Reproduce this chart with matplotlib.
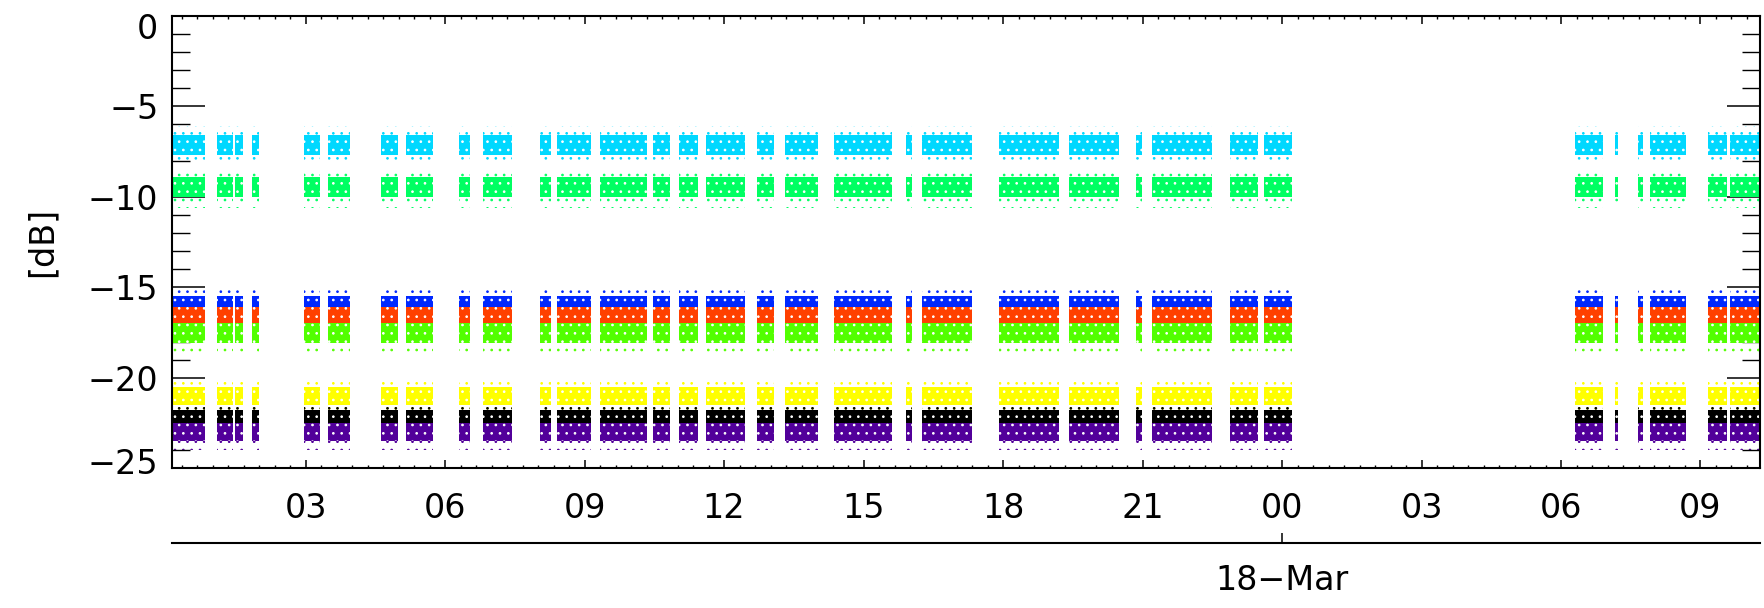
import matplotlib
matplotlib.use("Agg")
import matplotlib.pyplot as plt
from matplotlib.ticker import MultipleLocator, FixedLocator, FixedFormatter
from matplotlib.transforms import ScaledTranslation

# ---------------- data ----------------
# measurement bursts: start / end, hours since 17-Mar 00:00
burst_start = [0.13, 1.09, 1.48, 1.85, 2.96, 3.48, 4.62, 5.15, 6.29, 6.81,
               8.04, 8.40, 9.33, 10.47, 11.03, 11.60, 12.71, 13.30, 14.37, 15.92,
               16.26, 17.92, 19.42, 20.86, 21.20, 22.88, 23.61,
               30.30, 31.17, 31.66, 31.91, 33.17, 33.63]
burst_end = [0.84, 1.44, 1.65, 2.00, 3.31, 3.95, 4.98, 5.73, 6.53, 7.43,
             8.28, 9.13, 10.35, 10.83, 11.44, 12.44, 13.08, 14.01, 15.60, 16.05,
             17.34, 19.21, 20.49, 20.99, 22.50, 23.49, 24.22,
             30.91, 31.23, 31.77, 32.69, 33.56, 34.28]

# signal of each channel [dB]: dense core and outer scatter
series_colors = ["#00d8ff", "#00ff62", "#0028ff", "#ff4000",
                 "#52ff00", "#ffff00", "#000000", "#52009a"]
core_low = [-7.7, -10.0, -16.1, -17.0, -18.1, -21.5, -22.5, -23.5]
core_high = [-6.6, -8.9, -15.5, -16.1, -17.0, -20.5, -21.8, -22.5]
spread_low = [-8.2, -10.6, -16.3, -17.3, -18.7, -22.0, -22.7, -24.0]
spread_high = [-6.1, -8.4, -15.0, -15.9, -16.8, -20.0, -21.5, -22.3]

xtick_pos = [3, 6, 9, 12, 15, 18, 21, 24, 27, 30, 33]
xtick_labels = ["03", "06", "09", "12", "15", "18", "21", "00", "03", "06", "09"]
ytick_pos = [-25, -20, -15, -10, -5, 0]
date_tick_pos = [24]
date_tick_labels = ["18\u2212Mar"]
x_min, x_max = 0.13, 34.28
y_min, y_max = -25, 0
ylabel = "[dB]"

# ---------------- figure ----------------
plt.rcParams["font.family"] = ["DejaVu Sans"]
plt.rcParams["hatch.linewidth"] = 0.7
FS = 24
W, H, DPI = 1765, 608, 100
fig = plt.figure(figsize=(W / DPI, H / DPI), dpi=DPI)
ax = fig.add_axes([172.3 / W, 1 - 468.3 / H, (1760 - 172.3) / W, (468.3 - 15.7) / H])

widths = [e - s for s, e in zip(burst_start, burst_end)]
n = len(burst_start)
# outer scatter (sparse dots)
for lo, hi, col in zip(spread_low, spread_high, series_colors):
    ax.bar(burst_start, [hi - lo] * n, width=widths, bottom=lo,
           align="edge", facecolor="none", edgecolor=col, linewidth=0,
           hatch="..", zorder=1)
# dense core (speckled)
for lo, hi, col in zip(core_low, core_high, series_colors):
    ax.bar(burst_start, [hi - lo] * n, width=widths, bottom=lo,
           align="edge", facecolor=col, edgecolor="white", linewidth=0,
           hatch="..", zorder=2)

ax.set_xlim(x_min, x_max)
ax.set_ylim(y_min, y_max)

for sp in ax.spines.values():
    sp.set_linewidth(1.5)
    sp.set_zorder(5)

ax.xaxis.set_major_locator(FixedLocator(xtick_pos))
ax.xaxis.set_major_formatter(FixedFormatter(xtick_labels))
ax.xaxis.set_minor_locator(MultipleLocator(1 / 3))
ax.yaxis.set_major_locator(FixedLocator(ytick_pos))
ax.yaxis.set_minor_locator(MultipleLocator(1))

ax.tick_params(axis="x", which="major", direction="in", length=6, width=1.1,
               top=True, bottom=True, labelsize=FS, pad=17)
ax.tick_params(axis="x", which="minor", direction="in", length=2.5, width=1.0,
               top=True, bottom=True)
ax.tick_params(axis="y", which="major", direction="in", length=24, width=1.1,
               left=True, right=True, labelsize=FS, pad=10)
ax.tick_params(axis="y", which="minor", direction="in", length=13, width=1.0,
               left=True, right=True)

ax.set_ylabel(ylabel, fontsize=FS, va="center")
ax.yaxis.set_label_coords(-0.082, 0.5)

# edge tick labels shifted inward as in the original
yticks = ax.yaxis.get_major_ticks()
shift = {0: -10, len(ytick_pos) - 1: 0}
if len(yticks) == len(ytick_pos):
    lab_bot = yticks[0].label1
    lab_bot.set_transform(lab_bot.get_transform()
                          + ScaledTranslation(0, 7 / DPI, fig.dpi_scale_trans))
    lab_top = yticks[-1].label1
    lab_top.set_transform(lab_top.get_transform()
                          + ScaledTranslation(0, -10 / DPI, fig.dpi_scale_trans))

# second (date) axis below
sec = ax.secondary_xaxis(-75.0 / (468.3 - 15.7))
sec.xaxis.set_major_locator(FixedLocator(date_tick_pos))
sec.xaxis.set_major_formatter(FixedFormatter(date_tick_labels))
sec.xaxis.set_minor_locator(FixedLocator([]))
sec.tick_params(axis="x", which="major", direction="in", length=7, width=1.1,
                labelsize=FS, pad=15)
sec.spines["bottom"].set_linewidth(1.5)

fig.savefig("out.png", dpi=DPI)
